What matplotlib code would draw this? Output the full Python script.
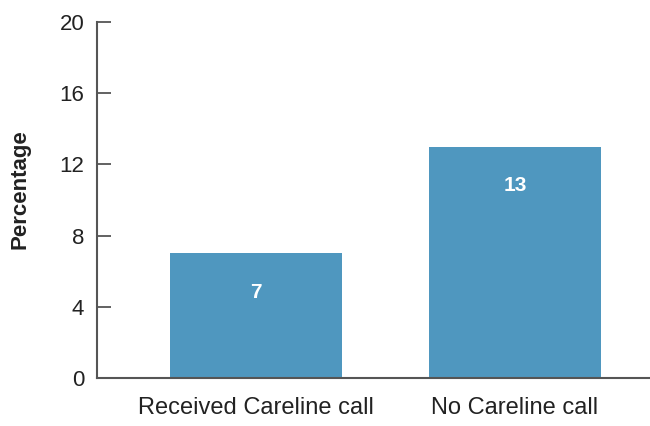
import matplotlib
matplotlib.use("Agg")
import matplotlib.pyplot as plt

categories = ["Received Careline call", "No Careline call"]
values = [7, 13]
yticks = [0, 4, 8, 12, 16, 20]

plt.rcParams['font.family'] = ['Liberation Sans', 'DejaVu Sans']

fig = plt.figure(figsize=(6.5, 4.26), dpi=100)
ax = fig.add_axes([0.149, 0.1127, 0.851, 0.8357])

color = '#4f97bf'
x = list(range(len(categories)))
ax.bar(x, values, width=0.664, color=color, zorder=2)
for xi, v in zip(x, values):
    ax.text(xi, v - 2.2, str(v), ha='center', va='center', color='white',
            fontsize=15, fontweight='bold')

ax.set_xlim(-0.614, 1.521)
ax.set_ylim(0, 20)
ax.set_yticks(yticks)
ax.set_yticklabels([str(t) for t in yticks])
ax.set_xticks(x)
ax.set_xticklabels(categories)

for s in ['top', 'right']:
    ax.spines[s].set_visible(False)
for s in ['left', 'bottom']:
    ax.spines[s].set_color('#555555')
    ax.spines[s].set_linewidth(1.5)

ax.tick_params(axis='y', direction='in', length=10, width=1.3, color='#555555',
               labelsize=16, labelcolor='#222222', pad=9)
ax.tick_params(axis='x', length=0, labelsize=17, labelcolor='#222222', pad=14)

ax.set_ylabel('Percentage', fontsize=16, fontweight='bold', color='#222222')
ax.yaxis.set_label_coords(-0.12, 0.53)

fig.savefig('out.png', dpi=100)
